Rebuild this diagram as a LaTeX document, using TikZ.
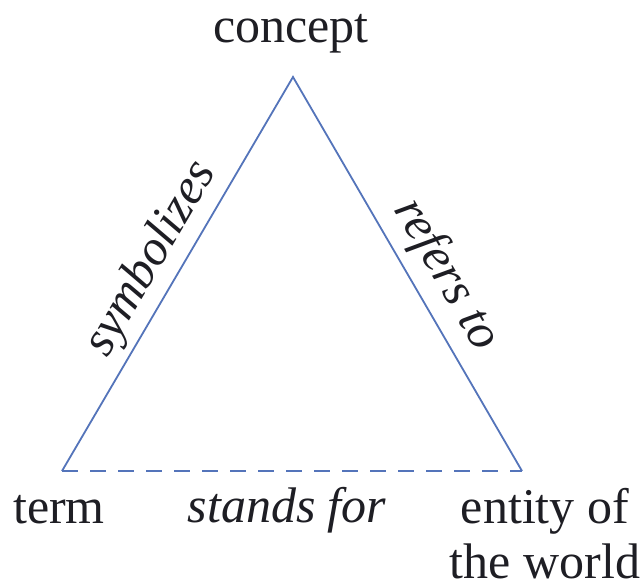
\documentclass[tikz,border=0pt]{standalone}
\usepackage{fontspec}
\setmainfont{Liberation Serif}
\definecolor{linecol}{RGB}{84,116,186}
\definecolor{textcol}{RGB}{30,30,36}
\begin{document}
\begin{tikzpicture}[x=1pt,y=-1pt,
  edge/.style={draw=linecol, line width=1.8pt, line join=miter},
  lbl/.style={font=\fontsize{50}{55}\selectfont, inner sep=0pt, text=textcol},
]
\useasboundingbox[fill=white] (0,0) rectangle (641,588);
\coordinate (C) at (293,77);
\coordinate (T) at (62,471);
\coordinate (E) at (522,471);
\draw[edge] (T) -- (C) -- (E);
\draw[edge, dash pattern=on 16pt off 12pt] (T) -- (E);
\node[lbl, anchor=base] (concept) at (291,43) {concept};
\node[lbl, anchor=base west] (term) at (13,523) {term};
\node[lbl, anchor=base] (stands) at (287,522) {\itshape stands for};
\node[lbl, anchor=north, align=center] (entity) at (545,488) {entity of\\the world};
\node[lbl, anchor=base, rotate=59.6] (symb) at (162,265) {\itshape symbolizes};
\node[lbl, anchor=base, rotate=-59.8] (refers) at (435,281) {\itshape refers to};
\end{tikzpicture}
\end{document}
